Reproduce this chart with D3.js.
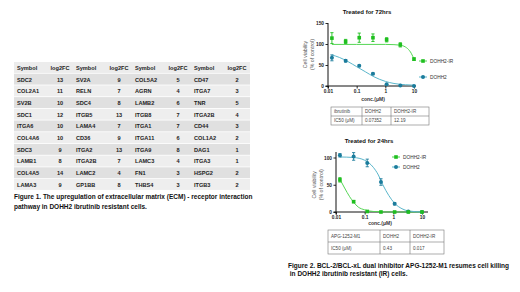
<!DOCTYPE html>
<html><head><meta charset="utf-8">
<script src="https://cdn.jsdelivr.net/npm/d3@7"></script>
<style>
html,body{margin:0;padding:0;background:#fff;}
svg{display:block;font-family:"Liberation Sans",Arial,sans-serif;}
</style></head>
<body>
<svg id="c" width="520" height="292"></svg>
<script>
// ---------- Figure 1 table data ----------
const symbolsA = ["SDC2","COL2A1","SV2B","SDC1","ITGA6","COL4A6","SDC3","LAMB1","COL4A5","LAMA3"];
const fcA      = [13,11,10,12,10,10,9,8,14,9];
const symbolsB = ["SV2A","RELN","SDC4","ITGB5","LAMA4","CD36","ITGA2","ITGA2B","LAMC2","GP1BB"];
const fcB      = [9,7,8,13,7,9,13,7,4,8];
const symbolsC = ["COL5A2","AGRN","LAMB2","ITGB8","ITGA1","ITGA11","ITGA9","LAMC3","FN1","THBS4"];
const fcC      = [5,4,6,7,7,6,8,4,3,3];
const symbolsD = ["CD47","ITGA7","TNR","ITGA2B","CD44","COL1A2","DAG1","ITGA3","HSPG2","ITGB3"];
const fcD      = [2,3,5,4,3,2,1,1,2,2];
const headers  = ["Symbol","log2FC"];

// ---------- Figure 2 data ----------
const concs = [0.0137, 0.0412, 0.123, 0.37, 1.11, 3.33, 10];
const xTicks = [0.01, 0.1, 1, 10];
const xTickLabels = ["0.01","0.1","1","10"];
// 72 hrs (ibrutinib)
const ir72 = [114, 106, 115, 115, 110, 98, 64];
const ir72err = [13, 5, 11, 9, 5, 5, 3];
const wt72 = [67, 60, 48, 29, 4, 1, 0];
const wt72err = [7, 3, 2, 2, 1, 1, 1];
const ir72fitX = [0.0137, 0.1, 1, 2, 3, 4, 5, 6, 7, 8, 9, 10];
const ir72fitY = [99, 99, 99, 98.5, 97.5, 96, 93, 89, 84, 78, 71, 64];
const wt72fitX = [0.0137, 0.025, 0.05, 0.1, 0.2, 0.4, 1, 2, 5, 10];
const wt72fitY = [74, 68, 58, 46, 34, 22, 11, 6, 3, 2];
const y72Ticks = [0, 50, 100, 150];
// 24 hrs (APG-1252-M1)
const wt24 = [104, 102, 90, 55, 15, 1, 0];
const wt24err = [3, 7, 7, 6, 2, 1, 1];
const ir24 = [59, 19, 1, 0, 0, 0, 0];
const ir24err = [4, 2, 1, 1, 1, 1, 1];
const wt24fitX = [0.0137, 0.041, 0.1, 0.2, 0.3, 0.43, 0.7, 1.11, 2, 3.33, 10];
const wt24fitY = [101, 100, 95, 82, 68, 50, 30, 16, 6, 2, 0];
const ir24fitX = [0.0137, 0.02, 0.03, 0.041, 0.06, 0.1, 0.2, 1, 10];
const ir24fitY = [60, 44, 28, 18, 9, 4, 1, 0, 0];
const y24Ticks = [0, 50, 100];

const ic50Head72 = ["ibrutinib","DOHH2","DOHH2-IR"];
const ic50Row72  = ["IC50 (μM)","0.07352","12.19"];
const ic50Head24 = ["APG-1252-M1","DOHH2","DOHH2-IR"];
const ic50Row24  = ["IC50 (μM)","0.43","0.017"];
const seriesNames = ["DOHH2-IR","DOHH2"];

const GREEN = "#1fbf1f", GREENL = "#55d655", BLUE = "#1b7c9c", BLUEL = "#5ab6cb";

const svg = d3.select("#c");

// ---------- Table 1 ----------
(function(){
  const x0 = 14, y0 = 62, rowH = 11.7, symW = 33, fcW = 26;
  const cols = [[symbolsA,fcA],[symbolsB,fcB],[symbolsC,fcC],[symbolsD,fcD]];
  const nRows = symbolsA.length + 1;
  const totalW = cols.length*(symW+fcW);
  const g = svg.append("g");
  for (let r=0;r<nRows;r++){
    g.append("rect").attr("x",x0).attr("y",y0+r*rowH).attr("width",totalW).attr("height",rowH-0.8)
      .attr("fill", r===0 ? "#ececec" : (r%2===1 ? "#e0e0e0" : "#eeeeee"));
  }
  cols.forEach((c,ci)=>{
    const cx = x0 + ci*(symW+fcW);
    g.append("text").attr("x",cx+3).attr("y",y0+rowH/2).attr("dy","0.35em")
      .attr("font-size",5.6).attr("font-weight","bold").attr("fill","#222").text(headers[0]);
    g.append("text").attr("x",cx+symW+fcW/2).attr("y",y0+rowH/2).attr("dy","0.35em").attr("text-anchor","middle")
      .attr("font-size",5.6).attr("font-weight","bold").attr("fill","#222").text(headers[1]);
    c[0].forEach((s,i)=>{
      const yy = y0+(i+1)*rowH+rowH/2;
      g.append("text").attr("x",cx+3).attr("y",yy).attr("dy","0.35em")
        .attr("font-size",5.6).attr("font-weight","bold").attr("fill","#222").text(s);
      g.append("text").attr("x",cx+symW+fcW/2).attr("y",yy).attr("dy","0.35em").attr("text-anchor","middle")
        .attr("font-size",5.6).attr("font-weight","bold").attr("fill","#222").text(c[1][i]);
    });
  });
  const cap = svg.append("text").attr("font-size",6.5).attr("font-weight","bold").attr("fill","#111");
  cap.append("tspan").attr("x",14).attr("y",199).text("Figure 1. The upregulation of extracellular matrix (ECM) - receptor interaction");
  cap.append("tspan").attr("x",14).attr("y",208.5).text("pathway in DOHH2 ibrutinib resistant cells.");
})();

// ---------- chart helper ----------
function chart(o){
  const g = svg.append("g");
  const x = d3.scaleLog().domain([0.01,10]).range(o.xr);
  const y = d3.scaleLinear().domain([0,o.yTicks[o.yTicks.length-1]]).range(o.yr);
  g.append("text").attr("x",o.titleX).attr("y",o.titleY).attr("text-anchor","middle")
    .attr("font-size",6).attr("font-weight","bold").attr("fill","#111").text(o.title);
  const ya = g.append("g").attr("transform",`translate(${o.xr[0]},0)`)
    .call(d3.axisLeft(y).tickValues(o.yTicks).tickSize(2.5).tickPadding(1.5));
  ya.select(".domain").attr("d",`M-2.5,${o.yr[0]}H0V${o.yTop}`);
  const xa = g.append("g").attr("transform",`translate(0,${o.yr[0]})`)
    .call(d3.axisBottom(x).tickValues(xTicks).tickFormat((d,i)=>xTickLabels[i]).tickSize(2.5).tickPadding(1.5));
  xa.select(".domain").attr("d",`M${o.xr[0]},2.5V0H${o.xEnd}`);
  [ya,xa].forEach(a=>{
    a.selectAll(".domain").attr("stroke","#111").attr("stroke-width",1);
    a.selectAll(".tick line").attr("stroke","#111").attr("stroke-width",0.9);
    a.selectAll("text").attr("font-size",4.8).attr("font-weight","bold").attr("fill","#222")
      .attr("font-family","Liberation Sans, Arial, sans-serif");
  });
  const yt = g.append("text").attr("transform",`translate(${o.yTitleX},${(o.yr[0]+o.yr[1])/2}) rotate(-90)`)
    .attr("text-anchor","middle").attr("font-size",5.2).attr("fill","#555");
  yt.append("tspan").attr("x",0).attr("y",0).text("Cell viability");
  yt.append("tspan").attr("x",0).attr("y",6.5).text("(% of control)");
  g.append("text").attr("x",o.xTitleX).attr("y",o.xTitleY).attr("text-anchor","middle")
    .attr("font-size",5).attr("font-weight","bold").attr("fill","#333").text("conc.(μM)");
  const line = d3.line().x(d=>x(d[0])).y(d=>y(d[1])).curve(d3.curveMonotoneX);
  o.curves.forEach(c=>{
    g.append("path").datum(c.xs.map((v,i)=>[v,c.ys[i]])).attr("d",line)
      .attr("fill","none").attr("stroke",c.color).attr("stroke-width",1);
  });
  o.series.forEach(s=>{
    concs.forEach((cx,i)=>{
      const px = x(cx), py = y(s.vals[i]);
      const e = s.err[i];
      if (e>1.5){
        g.append("line").attr("x1",px).attr("x2",px).attr("y1",y(s.vals[i]+e)).attr("y2",y(s.vals[i]-e))
          .attr("stroke",s.color).attr("stroke-width",0.9);
        [s.vals[i]+e, s.vals[i]-e].forEach(v=>g.append("line").attr("x1",px-1.6).attr("x2",px+1.6)
          .attr("y1",y(v)).attr("y2",y(v)).attr("stroke",s.color).attr("stroke-width",0.9));
      }
      if (s.shape==="square") g.append("rect").attr("x",px-1.8).attr("y",py-1.8).attr("width",3.6).attr("height",3.6).attr("fill",s.color);
      else g.append("circle").attr("cx",px).attr("cy",py).attr("r",2).attr("fill",s.color);
    });
  });
  o.legend.forEach(l=>{
    g.append("line").attr("x1",l.x-4).attr("x2",l.x+4).attr("y1",l.y).attr("y2",l.y).attr("stroke",l.lcolor).attr("stroke-width",1);
    if (l.shape==="square") g.append("rect").attr("x",l.x-1.8).attr("y",l.y-1.8).attr("width",3.6).attr("height",3.6).attr("fill",l.color);
    else g.append("circle").attr("cx",l.x).attr("cy",l.y).attr("r",2).attr("fill",l.color);
    g.append("text").attr("x",l.x+7).attr("y",l.y).attr("dy","0.35em").attr("font-size",4.8).attr("fill","#333").text(l.name);
  });
  const t = o.table, tg = g.append("g");
  const rows = [t.head,t.row];
  rows.forEach((r,ri)=>{
    r.forEach((txt,ci)=>{
      tg.append("text").attr("x",t.cols[ci]+3).attr("y",t.y+ri*t.h+t.h/2).attr("dy","0.35em")
        .attr("font-size",4.6).attr("fill","#444").text(txt);
    });
  });
  tg.append("rect").attr("x",t.cols[0]).attr("y",t.y).attr("width",t.cols[3]-t.cols[0]).attr("height",2*t.h)
    .attr("fill","none").attr("stroke","#777").attr("stroke-width",0.6);
  tg.append("line").attr("x1",t.cols[0]).attr("x2",t.cols[3]).attr("y1",t.y+t.h).attr("y2",t.y+t.h).attr("stroke","#777").attr("stroke-width",0.6);
  [1,2].forEach(k=>tg.append("line").attr("x1",t.cols[k]).attr("x2",t.cols[k]).attr("y1",t.y).attr("y2",t.y+2*t.h).attr("stroke","#777").attr("stroke-width",0.6));
}

chart({
  title:"Treated for 72hrs", titleX:367, titleY:14,
  xr:[328,414], yr:[86,23], yTop:23, xEnd:416, yTicks:y72Ticks,
  yTitleX:307, xTitleX:373, xTitleY:101,
  curves:[{xs:ir72fitX, ys:ir72fitY, color:GREENL},{xs:wt72fitX, ys:wt72fitY, color:BLUEL}],
  series:[{vals:ir72, err:ir72err, color:GREEN, shape:"square"},{vals:wt72, err:wt72err, color:BLUE, shape:"circle"}],
  legend:[{x:423,y:61,name:seriesNames[0],color:GREEN,lcolor:GREENL,shape:"square"},
          {x:423,y:77,name:seriesNames[1],color:BLUE,lcolor:BLUEL,shape:"circle"}],
  table:{head:ic50Head72,row:ic50Row72,cols:[331,362,391,429],y:107,h:9}
});

chart({
  title:"Treated for 24hrs", titleX:369, titleY:143,
  xr:[336,422], yr:[212,157.5], yTop:152, xEnd:428, yTicks:y24Ticks,
  yTitleX:316, xTitleX:380, xTitleY:225,
  curves:[{xs:ir24fitX, ys:ir24fitY, color:GREENL},{xs:wt24fitX, ys:wt24fitY, color:BLUEL}],
  series:[{vals:wt24, err:wt24err, color:BLUE, shape:"circle"},{vals:ir24, err:ir24err, color:GREEN, shape:"square"}],
  legend:[{x:396,y:157,name:seriesNames[0],color:GREEN,lcolor:GREENL,shape:"square"},
          {x:396,y:167,name:seriesNames[1],color:BLUE,lcolor:BLUEL,shape:"circle"}],
  table:{head:ic50Head24,row:ic50Row24,cols:[328,380,410,444],y:230,h:12}
});

const cap2 = svg.append("text").attr("font-size",6.5).attr("font-weight","bold").attr("fill","#111");
cap2.append("tspan").attr("x",288).attr("y",267.5).text("Figure 2. BCL-2/BCL-xL dual inhibitor APG-1252-M1 resumes cell killing");
cap2.append("tspan").attr("x",288).attr("y",276).text(" in DOHH2 ibrutinib resistant (IR) cells.");
</script>
</body></html>
